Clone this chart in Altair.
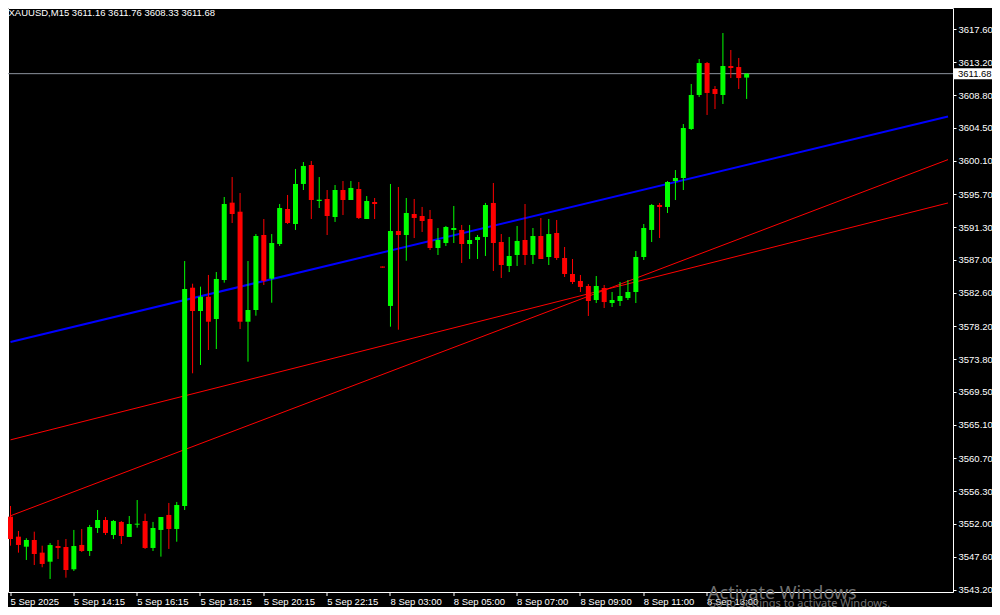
import altair as alt
import pandas as pd

# ---- data (XAUUSD M15) ----
bars = list(range(94))
opens = [3552.92, 3550.27, 3548.94, 3549.83, 3548.15, 3546.95, 3549.03, 3548.90, 3545.94, 3549.17,
         3548.37, 3551.42, 3552.48, 3550.49, 3552.22, 3550.23, 3551.86, 3552.35, 3548.77, 3551.16,
         3553.15, 3551.29, 3554.34, 3583.29, 3580.20, 3582.10, 3579.14, 3584.31, 3594.57, 3593.37,
         3578.78, 3580.33, 3590.28, 3584.49, 3589.09, 3593.73, 3591.74, 3597.05, 3599.57, 3594.79,
         3595.06, 3592.67, 3596.25, 3594.92, 3596.38, 3592.40, 3594.66, 3586.10, 3580.87, 3590.81,
         3590.28, 3593.07, 3592.80, 3592.40, 3588.56, 3589.22, 3590.95, 3590.95, 3589.09, 3589.62,
         3590.02, 3594.53, 3589.35, 3586.17, 3587.63, 3589.62, 3587.63, 3590.15, 3587.36, 3590.55,
         3587.23, 3585.11, 3584.18, 3583.52, 3581.66, 3583.25, 3581.26, 3581.53, 3581.93, 3582.72,
         3587.36, 3590.95, 3594.26, 3594.00, 3597.44, 3597.84, 3604.34, 3608.85, 3613.09, 3609.65,
         3608.85, 3612.70, 3612.56, 3611.16]
highs = [3554.34, 3551.02, 3550.06, 3550.93, 3549.07, 3549.43, 3549.83, 3549.96, 3551.16, 3551.29,
         3551.82, 3553.81, 3552.88, 3552.48, 3552.35, 3553.01, 3555.13, 3553.32, 3552.22, 3552.88,
         3554.74, 3554.87, 3586.83, 3583.82, 3583.43, 3584.98, 3585.37, 3595.32, 3597.97, 3595.85,
         3586.83, 3590.41, 3592.40, 3590.41, 3594.39, 3595.59, 3599.04, 3599.96, 3600.10, 3597.97,
         3596.25, 3596.91, 3597.44, 3597.44, 3597.31, 3595.45, 3595.19, 3586.10, 3597.05, 3596.65,
         3595.19, 3595.06, 3594.00, 3593.60, 3591.21, 3591.48, 3594.13, 3591.61, 3591.61, 3590.28,
         3594.53, 3597.18, 3590.41, 3590.02, 3591.48, 3594.39, 3591.21, 3592.54, 3592.40, 3592.27,
         3588.69, 3587.10, 3584.98, 3583.78, 3584.84, 3583.65, 3582.72, 3584.05, 3584.31, 3588.16,
         3591.74, 3594.39, 3594.53, 3597.44, 3598.90, 3605.00, 3610.31, 3613.62, 3613.23, 3610.04,
         3617.07, 3614.82, 3613.76, 3611.76]
lows = [3549.07, 3548.15, 3547.18, 3546.51, 3546.21, 3544.66, 3547.31, 3544.83, 3545.72, 3548.24,
        3547.71, 3550.76, 3550.49, 3549.96, 3549.30, 3550.23, 3551.46, 3548.64, 3548.37, 3547.62,
        3548.64, 3549.60, 3553.81, 3571.94, 3573.04, 3575.03, 3575.16, 3583.96, 3591.87, 3577.81,
        3573.48, 3579.58, 3583.65, 3581.30, 3588.82, 3591.74, 3590.95, 3596.25, 3592.40, 3593.86,
        3590.28, 3592.01, 3592.93, 3594.92, 3592.40, 3592.40, 3592.40, 3585.95, 3578.12, 3577.72,
        3586.87, 3589.88, 3590.68, 3588.29, 3587.63, 3588.82, 3589.22, 3586.57, 3587.10, 3587.10,
        3587.50, 3585.51, 3584.58, 3585.37, 3586.17, 3586.30, 3586.44, 3587.10, 3586.30, 3586.97,
        3584.71, 3583.78, 3582.72, 3579.54, 3581.26, 3580.60, 3580.73, 3580.87, 3581.66, 3581.26,
        3586.97, 3589.35, 3589.88, 3593.20, 3594.92, 3596.25, 3604.21, 3608.58, 3606.20, 3606.99,
        3607.66, 3611.10, 3609.65, 3608.33]
closes = [3549.96, 3549.17, 3549.83, 3547.97, 3546.65, 3549.17, 3548.77, 3545.85, 3549.03, 3548.37,
          3551.55, 3552.48, 3550.76, 3552.35, 3550.36, 3551.95, 3551.99, 3548.77, 3551.42, 3552.88,
          3551.29, 3554.47, 3583.12, 3580.20, 3582.10, 3578.78, 3584.45, 3594.39, 3593.07, 3578.78,
          3580.33, 3590.15, 3584.22, 3589.22, 3593.86, 3591.87, 3597.05, 3599.43, 3594.92, 3594.96,
          3592.80, 3596.25, 3594.92, 3596.52, 3592.54, 3594.79, 3594.39, 3585.95, 3590.81, 3590.28,
          3593.20, 3592.54, 3592.14, 3588.56, 3589.62, 3591.34, 3591.21, 3589.09, 3589.62, 3590.02,
          3594.26, 3589.22, 3586.30, 3587.50, 3589.49, 3587.63, 3590.15, 3587.10, 3590.41, 3587.23,
          3585.11, 3584.05, 3583.39, 3581.53, 3583.52, 3581.39, 3581.66, 3582.19, 3582.72, 3587.36,
          3591.21, 3594.26, 3594.00, 3597.31, 3597.84, 3604.47, 3608.85, 3613.09, 3609.12, 3608.98,
          3612.70, 3612.43, 3611.10, 3611.68]

tick_bars = [0, 8, 16, 24, 32, 40, 48, 56, 64, 72, 80, 88]
tick_labels = ["5 Sep 2025", "5 Sep 14:15", "5 Sep 16:15", "5 Sep 18:15", "5 Sep 20:15",
               "5 Sep 22:15", "8 Sep 03:00", "8 Sep 05:00", "8 Sep 07:00", "8 Sep 09:00",
               "8 Sep 11:00", "8 Sep 13:00"]
price_ticks = [3617.60, 3613.20, 3608.80, 3604.50, 3600.10, 3595.70, 3591.30, 3587.00, 3582.60,
               3578.20, 3573.80, 3569.50, 3565.10, 3560.70, 3556.30, 3552.00, 3547.60, 3543.20]

line_bars = [0, 118.44]
blue_line = [3576.10, 3606.01]
red_line_1 = [3553.04, 3600.28]
red_line_2 = [3563.11, 3594.53]

bid_price = 3611.68
header = "XAUUSD,M15  3611.16 3611.76 3608.33 3611.68"

# ---- chart ----
X_DOM = [0.3125, 118.4375]
Y_DOM = [3542.93, 3620.39]
FONT = "Liberation Sans"

df = pd.DataFrame({"bar": bars, "open": opens, "high": highs, "low": lows, "close": closes})
df["dir"] = ["up" if c >= o else "down" for o, c in zip(opens, closes)]

label_expr = "[" + ",".join("'" + t + "'" for t in tick_labels) + "][round(datum.value/8)]"

x_axis = alt.Axis(values=tick_bars, labelExpr=label_expr, tickSize=4, labelPadding=1,
                  labelAlign="left", labelBaseline="top", labelColor="white", tickColor="white",
                  domain=False, grid=False, title=None, labelFont=FONT, labelFontSize=9.5,
                  labelOverlap=False, labelFlush=False, labelBound=False, translate=0)
y_axis = alt.Axis(orient="right", values=price_ticks, format=".2f", tickSize=3, labelPadding=2,
                  labelColor="white", tickColor="white", domain=False, grid=False, title=None,
                  labelFont=FONT, labelFontSize=9.5, labelOverlap=False, labelFlush=False,
                  labelBound=False)

xs = alt.Scale(domain=X_DOM, nice=False, zero=False)
ys = alt.Scale(domain=Y_DOM, nice=False, zero=False)
col = alt.Color("dir:N", scale=alt.Scale(domain=["up", "down"], range=["#00ff00", "#ff0000"]), legend=None)

base = alt.Chart(df)
wicks = base.mark_rule(strokeWidth=1, clip=True).encode(
    x=alt.X("bar:Q", scale=xs, axis=x_axis),
    y=alt.Y("low:Q", scale=ys, axis=y_axis),
    y2="high:Q",
    color=col,
)
bodies = base.mark_bar(width=5, clip=True).encode(
    x=alt.X("bar:Q", scale=xs, axis=x_axis),
    y=alt.Y("open:Q", scale=ys, axis=y_axis),
    y2="close:Q",
    color=col,
)

def trend(prices, color, width):
    d = pd.DataFrame({"bar": line_bars, "price": prices})
    return alt.Chart(d).mark_line(color=color, strokeWidth=width, clip=True).encode(
        x=alt.X("bar:Q", scale=xs, axis=x_axis),
        y=alt.Y("price:Q", scale=ys, axis=y_axis),
    )

red1 = trend(red_line_1, "#ff0000", 1)
red2 = trend(red_line_2, "#ff0000", 1)
blue = trend(blue_line, "#0000ff", 2)

bid_df = pd.DataFrame({"price": [bid_price], "label": [f"{bid_price:.2f}"]})
bid_rule = alt.Chart(bid_df).mark_rule(color="#8c949e", strokeWidth=1).encode(
    y=alt.Y("price:Q", scale=ys, axis=y_axis))
bid_box = alt.Chart(bid_df).mark_rule(color="white", strokeWidth=11).encode(
    x=alt.value(946), x2=alt.value(986), y=alt.Y("price:Q", scale=ys, axis=y_axis))
bid_text = alt.Chart(bid_df).mark_text(align="left", baseline="middle", font=FONT, fontSize=9.5,
                                       color="black").encode(
    x=alt.value(950), y=alt.Y("price:Q", scale=ys, axis=y_axis), text="label:N")

head_df = pd.DataFrame({"t": [header]})
head = alt.Chart(head_df).mark_text(align="left", baseline="alphabetic", font=FONT, fontSize=9.5,
                                    color="white").encode(
    x=alt.value(0.5), y=alt.value(8), text="t:N")

wm_df = pd.DataFrame({"a": ["Activate Windows"], "b": ["Go to Settings to activate Windows."]})
wm1 = alt.Chart(wm_df).mark_text(align="left", baseline="alphabetic", font="Noto Sans", fontSize=18,
                                 color="#707070").encode(x=alt.value(700), y=alt.value(591), text="a:N")
wm2 = alt.Chart(wm_df).mark_text(align="left", baseline="alphabetic", font="Noto Sans", fontSize=11,
                                 color="#707070").encode(x=alt.value(700), y=alt.value(599), text="b:N")

chart = alt.layer(red1, red2, blue, bid_rule, wicks, bodies, bid_box, bid_text, head, wm1, wm2).properties(
    width=945, height=584,
    autosize=alt.AutoSizeParams(type="none"),
    padding={"left": 0, "top": 0, "right": 39, "bottom": 15},
    background="#000000",
).configure_view(stroke="white", strokeWidth=1, fill="#000000")

chart.save("out.html", embed_options={"renderer": "svg", "actions": False})
